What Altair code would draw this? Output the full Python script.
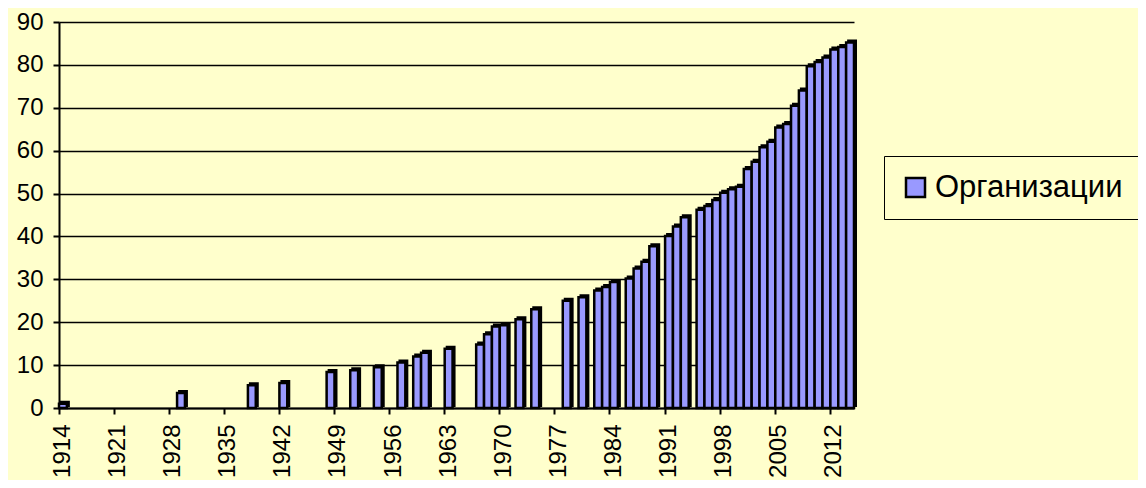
import altair as alt
import pandas as pd

years = [1914, 1929, 1938, 1942, 1948, 1951, 1954, 1957, 1959, 1960, 1963,
         1967, 1968, 1969, 1970, 1972, 1974, 1978, 1980, 1982, 1983, 1984,
         1986, 1987, 1988, 1989, 1991, 1992, 1993, 1995, 1996, 1997, 1998,
         1999, 2000, 2001, 2002, 2003, 2004, 2005, 2006, 2007, 2008, 2009,
         2010, 2011, 2012, 2013, 2014]
values = [1.0, 3.5, 5.3, 5.8, 8.4, 8.8, 9.5, 10.6, 12.0, 12.9, 13.8,
          14.8, 17.2, 19.0, 19.3, 20.7, 23.0, 25.0, 25.8, 27.4, 28.2, 29.4,
          30.2, 32.5, 34.1, 37.7, 40.1, 42.3, 44.5, 46.2, 47.1, 48.5, 50.2,
          51.0, 51.6, 55.7, 57.4, 60.8, 62.1, 65.4, 66.2, 70.5, 74.0, 79.7,
          80.7, 81.7, 83.6, 84.2, 85.2]
all_years = list(range(1914, 2015))
tick_years = list(range(1914, 2015, 7))
y_ticks = list(range(0, 91, 10))
series_name = "Организации"

df = pd.DataFrame({"year": years, "value": values, "series": series_name})

FONT = "Liberation Sans"
BG = "#FFFFCC"

x_enc = alt.X(
    "year:O",
    scale=alt.Scale(domain=all_years, paddingInner=0, paddingOuter=0),
    axis=alt.Axis(
        values=tick_years, bandPosition=0, labelAngle=-90, title=None,
        labelFont=FONT, labelFontSize=24, labelColor="black",
        domainColor="black", domainWidth=2, tickColor="black", tickWidth=2,
        tickSize=6, labelPadding=10, grid=False,
    ),
)
y_enc = alt.Y(
    "value:Q",
    scale=alt.Scale(domain=[0, 90], nice=False),
    axis=alt.Axis(
        values=y_ticks, title=None, labelFont=FONT, labelFontSize=24,
        labelColor="black", domainColor="black", domainWidth=2,
        tickColor="black", tickWidth=2, tickSize=6, labelPadding=10,
        grid=True, gridColor="black", gridWidth=1.6,
    ),
)

base = alt.Chart(df)
shadow = base.mark_bar(fill="black", stroke="black", strokeWidth=2,
                       xOffset=2, yOffset=-2).encode(x=x_enc, y=y_enc)
front = base.mark_bar(stroke="black", strokeWidth=2.5).encode(
    x=x_enc,
    y=y_enc,
    color=alt.Color(
        "series:N",
        scale=alt.Scale(domain=[series_name], range=["#9999FF"]),
        legend=alt.Legend(
            title=None, orient="none", legendX=825, legendY=134,
            strokeColor="black", fillColor=BG, padding=16,
            symbolType="square", symbolSize=361, symbolStrokeColor="black",
            symbolStrokeWidth=2.5, symbolOpacity=1,
            labelFont=FONT, labelFontSize=31, labelColor="black",
            labelOffset=4, labelLimit=400,
        ),
    ),
)

chart = alt.layer(shadow, front).properties(
    width=795, height=386, background=BG,
    padding={"left": 51, "top": 14, "right": 284, "bottom": 72},
    autosize=alt.AutoSizeParams(type="none"),
).configure_view(stroke=None, fill=BG)

chart.save("out.html", embed_options={"renderer": "svg", "actions": False})
